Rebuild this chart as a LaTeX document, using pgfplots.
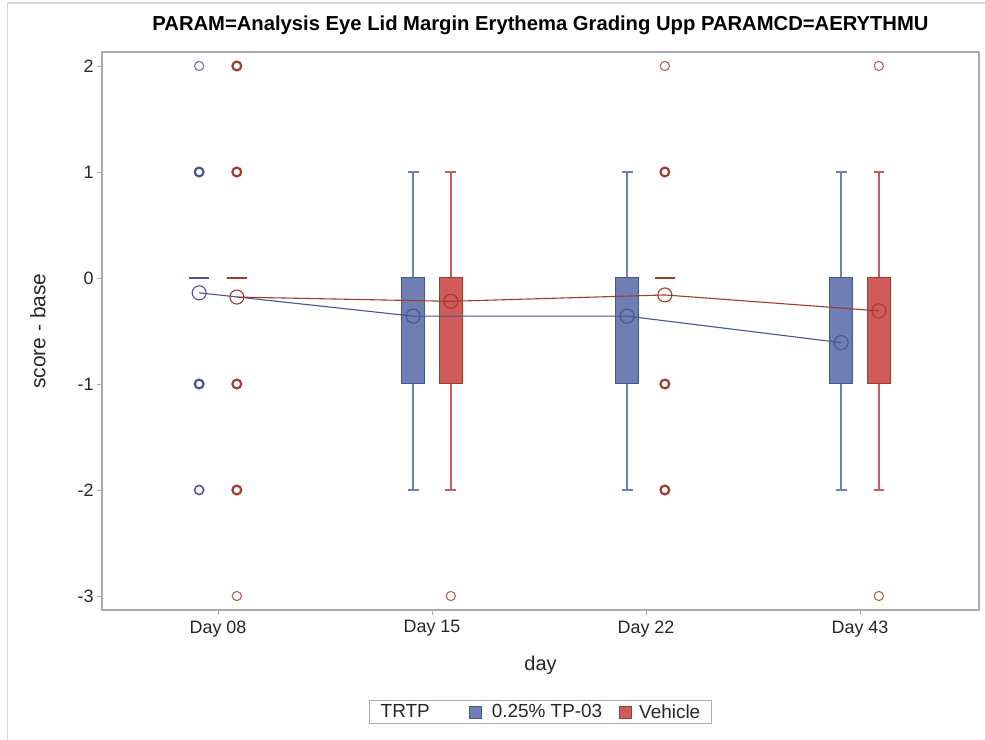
\documentclass[border=0pt]{standalone}
\usepackage{fontspec}
\setmainfont{Liberation Sans}
\usepackage{pgfplots}
\pgfplotsset{compat=1.18}
\usepgfplotslibrary{statistics}
\definecolor{bfill}{HTML}{6F7EB3}
\definecolor{bline}{HTML}{445694}
\definecolor{rfill}{HTML}{D05B5B}
\definecolor{rline}{HTML}{A23A2E}
\definecolor{axgray}{HTML}{ABABAB}
\begin{document}
\begin{tikzpicture}
\useasboundingbox (0bp,0bp) rectangle (985bp,740bp);
\draw[gray!30, line width=1.2bp] (7.5bp,0bp) -- (7.5bp,737bp) -- (985bp,737bp);
\begin{axis}[
  at={(102bp,130bp)}, anchor=south west, scale only axis,
  width=877bp, height=558bp,
  xmin=-0.542, xmax=3.556, ymin=-3.132, ymax=2.132,
  xtick={0,1,2,3}, xticklabels={Day 08,Day 15,Day 22,Day 43},
  ytick={-3,-2,-1,0,1,2},
  tick align=outside, xtick pos=bottom, ytick pos=left,
  major tick length=5bp,
  axis line style={axgray, line width=1.2bp},
  tick style={axgray, line width=0.8bp},
  /pgf/number format/assume math mode=true,
  ticklabel style={font=\fontsize{18}{21}\selectfont, text=black!85},
  xticklabel style={yshift=-2bp},
  xlabel={day}, ylabel={score - base},
  label style={font=\fontsize{20}{23}\selectfont, text=black!85},
  xlabel style={at={(axis description cs:0.5,-0.0986)}, anchor=center},
  ylabel style={font=\fontsize{21}{24}\selectfont, at={(axis description cs:-0.073,0.5)}, anchor=center, rotate=0},
  title={PARAM=Analysis Eye Lid Margin Erythema Grading Upp PARAMCD=AERYTHMU},
  title style={font=\bfseries\fontsize{20.3}{23}\selectfont, at={(axis description cs:0.5,1.0376)}, anchor=center},
  legend style={at={(axis description cs:0.5,-0.183)}, anchor=center,
    legend columns=3, draw=axgray, line width=0.8bp,
    font=\fontsize{19}{22}\selectfont, text=black!85,
    inner xsep=9bp, inner ysep=2bp},
]
\addlegendimage{empty legend}
\addlegendentry{TRTP}
\addlegendimage{legend image code/.code={\path[draw=none,fill=none] (-38bp,0bp) -- (20bp,0bp); \draw[fill=bfill,draw=bline,line width=0.8bp] (0bp,-6bp) rectangle (12bp,6bp);}}
\addlegendentry{0.25\% TP-03}
\addlegendimage{legend image code/.code={\path[draw=none,fill=none] (-15bp,0bp) -- (18bp,0bp); \draw[fill=rfill,draw=rline,line width=0.8bp] (0bp,-6bp) rectangle (12bp,6bp);}}
\addlegendentry{Vehicle}

% ---- boxes: 0.25% TP-03 (blue)
\addplot[forget plot, draw=bline, fill=bfill, line width=1bp,
  boxplot/draw direction=y, boxplot/every median/.style={line width=2.2bp},
  boxplot prepared={draw position=-0.088, lower whisker=0, lower quartile=0, median=0, upper quartile=0, upper whisker=0, box extend=0.095, whisker extend=0.0}] coordinates {};
\addplot[forget plot, draw=bline, fill=bfill, line width=1bp,
  boxplot/draw direction=y, boxplot/every whisker/.style={draw=bfill, line width=1.4bp},
  boxplot prepared={draw position=0.912, lower whisker=-2, lower quartile=-1, median=0, upper quartile=0, upper whisker=1, box extend=0.107, whisker extend=0.05}] coordinates {};
\addplot[forget plot, draw=bline, fill=bfill, line width=1bp,
  boxplot/draw direction=y, boxplot/every whisker/.style={draw=bfill, line width=1.4bp},
  boxplot prepared={draw position=1.912, lower whisker=-2, lower quartile=-1, median=0, upper quartile=0, upper whisker=1, box extend=0.107, whisker extend=0.05}] coordinates {};
\addplot[forget plot, draw=bline, fill=bfill, line width=1bp,
  boxplot/draw direction=y, boxplot/every whisker/.style={draw=bfill, line width=1.4bp},
  boxplot prepared={draw position=2.912, lower whisker=-2, lower quartile=-1, median=0, upper quartile=0, upper whisker=1, box extend=0.107, whisker extend=0.05}] coordinates {};
% ---- boxes: Vehicle (red)
\addplot[forget plot, draw=rline, fill=rfill, line width=1bp,
  boxplot/draw direction=y, boxplot/every median/.style={line width=2.2bp},
  boxplot prepared={draw position=0.088, lower whisker=0, lower quartile=0, median=0, upper quartile=0, upper whisker=0, box extend=0.095, whisker extend=0.0}] coordinates {};
\addplot[forget plot, draw=rline, fill=rfill, line width=1bp,
  boxplot/draw direction=y, boxplot/every whisker/.style={draw=rfill, line width=1.4bp},
  boxplot prepared={draw position=1.088, lower whisker=-2, lower quartile=-1, median=0, upper quartile=0, upper whisker=1, box extend=0.107, whisker extend=0.05}] coordinates {};
\addplot[forget plot, draw=rline, fill=rfill, line width=1bp,
  boxplot/draw direction=y, boxplot/every median/.style={line width=2.2bp},
  boxplot prepared={draw position=2.088, lower whisker=0, lower quartile=0, median=0, upper quartile=0, upper whisker=0, box extend=0.095, whisker extend=0.0}] coordinates {};
\addplot[forget plot, draw=rline, fill=rfill, line width=1bp,
  boxplot/draw direction=y, boxplot/every whisker/.style={draw=rfill, line width=1.4bp},
  boxplot prepared={draw position=3.088, lower whisker=-2, lower quartile=-1, median=0, upper quartile=0, upper whisker=1, box extend=0.107, whisker extend=0.05}] coordinates {};

% ---- outliers (single)
\addplot[forget plot, only marks, mark=o, mark size=4.6bp, draw=bline!80, line width=1.1bp] coordinates {(-0.088,2)};
\addplot[forget plot, only marks, mark=o, mark size=4.6bp, draw=bline, line width=1.5bp] coordinates {(-0.088,-2)};
\addplot[forget plot, only marks, mark=o, mark size=4.6bp, draw=rline!80, line width=1.1bp] coordinates {(0.088,-3) (1.088,-3) (2.088,2) (3.088,2) (3.088,-3)};
% ---- outliers (repeated)
\addplot[forget plot, only marks, mark=o, mark size=4.4bp, draw=bline, line width=2.2bp] coordinates {(-0.088,1) (-0.088,-1)};
\addplot[forget plot, only marks, mark=o, mark size=4.4bp, draw=rline, line width=2.2bp] coordinates {(0.088,2) (0.088,1) (0.088,-1) (0.088,-2) (2.088,1) (2.088,-1) (2.088,-2)};

% ---- means
\addplot[forget plot, draw=bline, line width=1.1bp, mark=o, mark size=7bp, mark options={line width=1.1bp}] coordinates {(-0.088,-0.14) (0.912,-0.36) (1.912,-0.36) (2.912,-0.61)};
\addplot[forget plot, draw=rline, line width=1.1bp, mark=o, mark size=7bp, mark options={line width=1.1bp}] coordinates {(0.088,-0.18) (1.088,-0.22) (2.088,-0.16) (3.088,-0.31)};
\end{axis}
\end{tikzpicture}
\end{document}
